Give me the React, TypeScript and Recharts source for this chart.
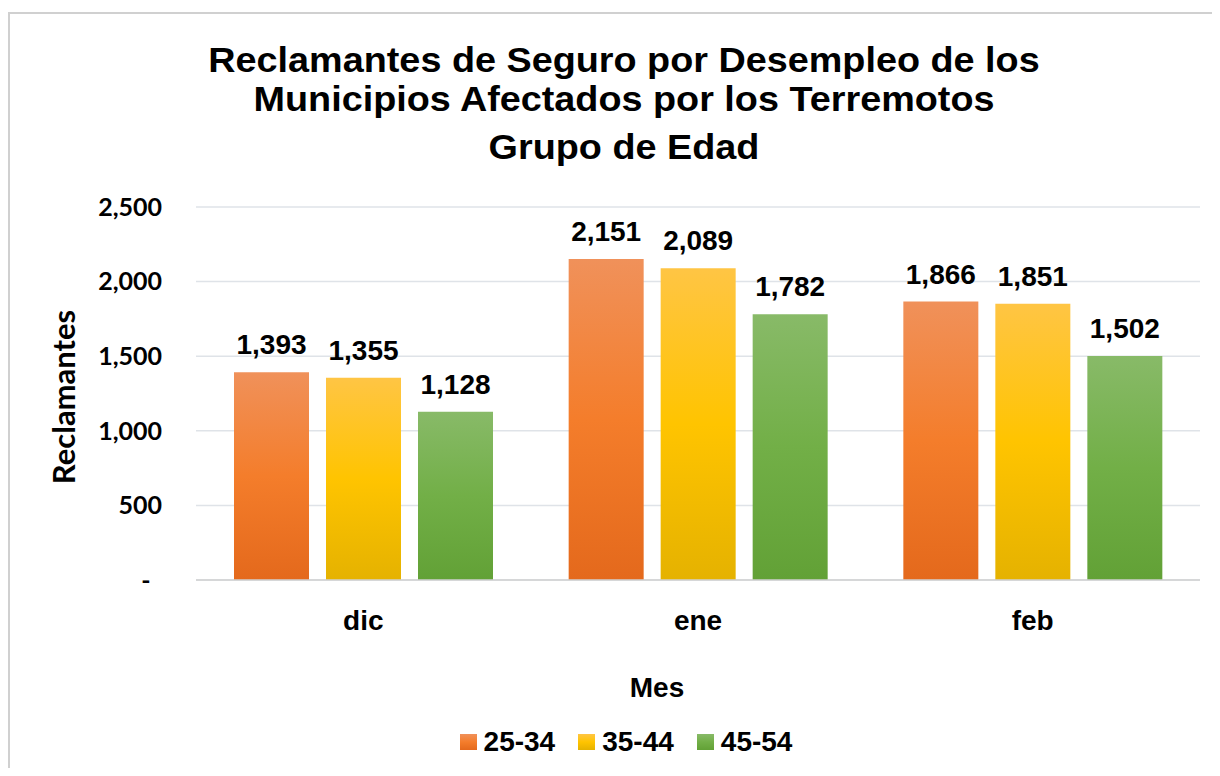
import { BarChart, Bar, XAxis, YAxis, CartesianGrid, Legend, LabelList } from "recharts"

const categories = ["dic", "ene", "feb"]
const seriesNames = ["25-34", "35-44", "45-54"]
const values2534 = [1393, 2151, 1866]
const values3544 = [1355, 2089, 1851]
const values4554 = [1128, 1782, 1502]
const yTicks = [0, 500, 1000, 1500, 2000, 2500]

const titleLines = [
  "Reclamantes de Seguro por Desempleo de los",
  "Municipios Afectados por los Terremotos",
  "Grupo de Edad",
]

const gradients = [
  { id: "g2534", stops: ["#F0915A", "#F47D2B", "#E4691C"] },
  { id: "g3544", stops: ["#FFC544", "#FFC400", "#E5B200"] },
  { id: "g4554", stops: ["#88BA68", "#72AF47", "#62A136"] },
]

const data = categories.map((mes, i) => ({
  mes,
  s2534: values2534[i],
  s3544: values3544[i],
  s4554: values4554[i],
}))

const seriesKeys = ["s2534", "s3544", "s4554"]

const ARIAL = "'Liberation Sans', Arial, sans-serif"
const CALIBRI = "Lato, 'Noto Sans', sans-serif"

const fmt = (v: number) => v.toLocaleString("en-US")

function YTick(props: any) {
  const { x, y, payload } = props
  if (payload.value === 0) {
    return (
      <text x={x - 16} y={y} dy="0.35em" textAnchor="middle" fontFamily={CALIBRI} fontWeight={700} fontSize={25} fill="#000">
        -
      </text>
    )
  }
  return (
    <text x={x} y={y} dy="0.35em" textAnchor="end" fontFamily={CALIBRI} fontWeight={700} fontSize={25} fill="#000">
      {fmt(payload.value)}
    </text>
  )
}

function LegendContent() {
  return (
    <div style={{ display: "flex", justifyContent: "center", alignItems: "center", height: 30 }}>
      {seriesNames.map((name, i) => (
        <div key={name} style={{ display: "flex", alignItems: "center", marginLeft: i === 0 ? 0 : 23 }}>
          <div
            style={{
              width: 17,
              height: 16,
              marginRight: 7,
              background: `linear-gradient(${gradients[i].stops[0]}, ${gradients[i].stops[1]}, ${gradients[i].stops[2]})`,
            }}
          />
          <span style={{ fontFamily: ARIAL, fontWeight: 700, fontSize: 28, color: "#000", lineHeight: "30px" }}>{name}</span>
        </div>
      ))}
    </div>
  )
}

export default function App() {
  return (
    <div style={{ paddingTop: 4 }}>
      <div
        style={{
          position: "relative",
          width: 1204,
          height: 756,
          boxSizing: "border-box",
          borderTop: "2px solid #d0d0d0",
          borderLeft: "2px solid #d0d0d0",
          overflow: "hidden",
          background: "#fff",
        }}
      >
        {titleLines.map((line, i) => (
          <div
            key={line}
            style={{
              position: "absolute",
              left: 0,
              width: 1228,
              top: [29, 68, 116][i],
              textAlign: "center",
              fontFamily: ARIAL,
              fontWeight: 700,
              fontSize: 34.5,
              lineHeight: "34.5px",
              color: "#000",
              transform: "scaleX(1.095)",
              whiteSpace: "nowrap",
            }}
          >
            {line}
          </div>
        ))}
        <div
          style={{
            position: "absolute",
            left: 53 - 100,
            top: 383 - 18,
            width: 200,
            height: 36,
            lineHeight: "36px",
            textAlign: "center",
            transform: "rotate(-90deg)",
            fontFamily: CALIBRI,
            fontWeight: 700,
            fontSize: 31,
            color: "#000",
          }}
        >
          Reclamantes
        </div>
        <div
          style={{
            position: "absolute",
            left: 647 - 60,
            top: 674 - 16,
            width: 120,
            lineHeight: "32px",
            textAlign: "center",
            fontFamily: ARIAL,
            fontWeight: 700,
            fontSize: 28,
            color: "#000",
          }}
        >
          Mes
        </div>
        <div style={{ position: "absolute", left: 0, top: 0 }}>
          <BarChart
            width={1200}
            height={750}
            data={data}
            margin={{ top: 193, right: 10, left: 0, bottom: 114 }}
            barSize={75}
            barGap={17}
          >
            <defs>
              {gradients.map((g) => (
                <linearGradient key={g.id} id={g.id} x1="0" y1="0" x2="0" y2="1">
                  <stop offset="0%" stopColor={g.stops[0]} />
                  <stop offset="50%" stopColor={g.stops[1]} />
                  <stop offset="100%" stopColor={g.stops[2]} />
                </linearGradient>
              ))}
            </defs>
            <CartesianGrid vertical={false} stroke="#dfe3e8" strokeWidth={1.5} />
            <XAxis
              dataKey="mes"
              height={40}
              tickSize={0}
              tickMargin={30}
              axisLine={{ stroke: "#d0d0d0", strokeWidth: 1.5 }}
              tick={{ fontFamily: ARIAL, fontWeight: 700, fontSize: 28, fill: "#000" }}
            />
            <YAxis
              width={186}
              domain={[0, 2500]}
              ticks={yTicks}
              tickSize={0}
              tickMargin={34}
              axisLine={false}
              tickLine={false}
              tick={<YTick />}
            />
            <Legend
              content={<LegendContent />}
              wrapperStyle={{ left: 316, width: 600, height: 30, top: 713, bottom: undefined }}
            />
            {seriesKeys.map((key, i) => (
              <Bar key={key} dataKey={key} name={seriesNames[i]} fill={`url(#${gradients[i].id})`} isAnimationActive={false}>
                <LabelList
                  dataKey={key}
                  position="top"
                  offset={18}
                  formatter={(v: any) => fmt(Number(v))}
                  style={{ fontFamily: ARIAL, fontWeight: 700, fontSize: 28, fill: "#000" }}
                />
              </Bar>
            ))}
          </BarChart>
        </div>
      </div>
    </div>
  )
}
